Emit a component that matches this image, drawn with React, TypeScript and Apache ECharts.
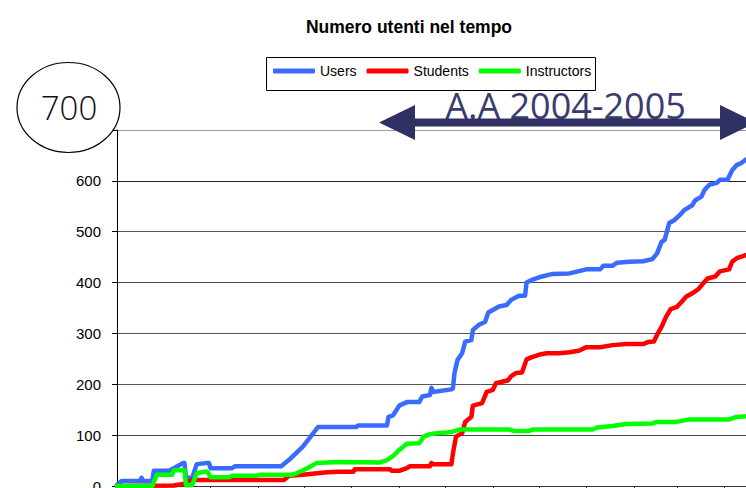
import React, { useEffect, useRef } from "react";
import * as echarts from "echarts";

// x = days since 1 March 2004, y = number of people
const users: [number, number][] = [
  [0, 2], [3, 10], [15, 10], [16, 16], [17, 10], [23, 10], [24, 30], [34, 30], [37, 35], [43, 45], [44, 45],
  [45, 16], [49, 16], [52, 43], [58, 45], [60, 45], [61, 35], [75, 35], [77, 39], [107, 39], [112, 51],
  [121, 77], [126, 96], [131, 116], [156, 116], [157, 119], [176, 119], [177, 136], [180, 139], [184, 158],
  [189, 165], [197, 165], [199, 176], [204, 179], [205, 193], [206, 185], [218, 190], [219, 192], [220, 222],
  [222, 248], [225, 261], [227, 284], [231, 287], [232, 307], [236, 317], [240, 323], [242, 341], [245, 346],
  [249, 353], [254, 356], [257, 366], [262, 374], [266, 374], [267, 400], [271, 406], [277, 412], [284, 417],
  [295, 418], [306, 426], [315, 426], [317, 433], [323, 433], [326, 439], [334, 441], [343, 442], [349, 446],
  [352, 457], [355, 480], [357, 484], [360, 517], [363, 522], [367, 533], [370, 543], [375, 552], [377, 562],
  [381, 569], [383, 582], [386, 592], [391, 596], [393, 602], [398, 602], [401, 621], [404, 631], [407, 635],
  [410, 642], [412, 645],
];

const students: [number, number][] = [
  [0, 0], [37, 1], [41, 3], [45, 5], [49, 12], [109, 12], [112, 20], [121, 22], [137, 27], [145, 28],
  [154, 28], [155, 33], [178, 33], [179, 30], [184, 30], [189, 35], [191, 39], [204, 39], [205, 45],
  [206, 43], [218, 43], [219, 64], [221, 97], [225, 104], [227, 126], [231, 136], [232, 158], [238, 163],
  [241, 185], [245, 189], [247, 202], [251, 205], [255, 208], [257, 216], [260, 222], [264, 223], [267, 249],
  [270, 253], [275, 258], [280, 261], [288, 261], [295, 263], [301, 266], [306, 273], [315, 273], [323, 277],
  [332, 279], [343, 279], [346, 283], [350, 284], [352, 297], [355, 313], [358, 333], [361, 348], [365, 352],
  [368, 362], [371, 372], [375, 379], [379, 387], [382, 398], [385, 408], [390, 412], [393, 422], [399, 426],
  [401, 441], [404, 448], [410, 454], [412, 456],
];

const instructors: [number, number][] = [
  [0, 0], [23, 0], [26, 22], [36, 22], [37, 31], [44, 31], [45, 2], [49, 2], [52, 25], [57, 28], [59, 28],
  [61, 17], [73, 17], [75, 20], [91, 20], [93, 22], [114, 22], [117, 25], [124, 35], [130, 45], [145, 47],
  [171, 46], [176, 51], [180, 59], [184, 71], [189, 83], [197, 84], [200, 97], [204, 102], [210, 104],
  [215, 105], [219, 107], [223, 111], [256, 111], [259, 108], [268, 108], [271, 111], [310, 111], [313, 115],
  [323, 118], [332, 122], [349, 123], [352, 126], [365, 126], [373, 131], [399, 131], [403, 135], [410, 137],
  [412, 138],
];

// first day of each month, Mar 2004 .. May 2005
const monthStarts = [0, 31, 61, 92, 122, 153, 184, 214, 245, 275, 306, 337, 365, 396, 426];
const yTicks = [0, 100, 200, 300, 400, 500, 600, 700];
const seriesNames = ["Users", "Students", "Instructors"];
const titleText = "Numero utenti nel tempo";
const circleText = "700";
const periodText = "A.A 2004-2005";

const NARROW = "'Liberation Sans Narrow', 'Arial Narrow', 'Liberation Sans', Arial, sans-serif";
const ROUND = "'Open Sans', 'Lato', 'DejaVu Sans', sans-serif";

export default function App() {
  const ref = useRef<HTMLDivElement>(null);
  useEffect(() => {
    if (!ref.current) return;
    const chart = echarts.init(ref.current, null, { renderer: "svg" });
    const pxPerDay = 1.534;
    const option: any = {
      animation: false,
      backgroundColor: "#ffffff",
      title: {
        text: titleText,
        left: 404,
        top: 13,
        textAlign: "center",
        textStyle: { fontFamily: NARROW, fontSize: 17.5, fontWeight: "bold", color: "#000" },
      },
      legend: {
        data: seriesNames,
        left: 273,
        top: 64,
        itemWidth: 42,
        itemHeight: 5,
        itemGap: 10,
        icon: "roundRect",
        padding: 0,
        z: 6,
        textStyle: { fontFamily: NARROW, fontSize: 14, color: "#000" },
      },
      grid: {
        left: 117,
        top: 130,
        width: monthStarts[monthStarts.length - 1] * pxPerDay,
        height: 356,
        containLabel: false,
        outerBoundsMode: "none",
      },
      xAxis: {
        type: "value",
        min: 0,
        max: monthStarts[monthStarts.length - 1],
        axisLine: { show: true, lineStyle: { color: "#333", width: 1 } },
        axisTick: { show: true, customValues: monthStarts, length: 5, lineStyle: { color: "#333" } },
        axisLabel: { show: false },
        splitLine: { show: false },
      },
      yAxis: {
        type: "value",
        min: 0,
        max: 700,
        interval: 100,
        axisLine: { show: true, lineStyle: { color: "#000", width: 1 } },
        axisTick: { show: true, length: 5, lineStyle: { color: "#000" } },
        axisLabel: {
          margin: 16,
          fontFamily: NARROW,
          fontSize: 15,
          color: "#000",
          formatter: (v: number) => (v === 700 || !yTicks.includes(v) ? "" : String(v)),
        },
        splitLine: {
          show: true,
          lineStyle: { color: ["#444", "#444", "#555", "#555", "#444", "#555", "#222", "#999"], width: 1 },
        },
      },
      series: [
        { name: seriesNames[0], data: users, color: "#3a6bff" },
        { name: seriesNames[1], data: students, color: "#ff0000" },
        { name: seriesNames[2], data: instructors, color: "#00ff00" },
      ].map((s) => ({
        ...s,
        type: "line",
        symbol: "none",
        clip: true,
        lineStyle: { width: 4.5, join: "round", cap: "round" },
      })),
      graphic: [
        {
          type: "rect",
          z: 1,
          shape: { x: 266.5, y: 57.5, width: 329, height: 33 },
          style: { fill: "#fff", stroke: "#000", lineWidth: 1 },
        },
        {
          type: "ellipse",
          z: 10,
          shape: { cx: 68.5, cy: 107.5, rx: 51.5, ry: 45 },
          style: { fill: "#fff", stroke: "#000", lineWidth: 1.2 },
        },
        {
          type: "text",
          z: 11,
          x: 69,
          y: 107.5,
          style: {
            text: circleText,
            fontFamily: ROUND,
            fontWeight: 300,
            fontSize: 33,
            fill: "#111",
            align: "center",
            verticalAlign: "middle",
          },
        },
        {
          type: "text",
          z: 10,
          x: 565.5,
          y: 105,
          style: {
            text: periodText,
            fontFamily: ROUND,
            fontWeight: "normal",
            fontSize: 36,
            fill: "#3b3b6e",
            align: "center",
            verticalAlign: "middle",
          },
        },
        {
          type: "polygon",
          z: 12,
          shape: {
            points: [
              [379, 122.5], [415, 105], [415, 118.5], [720, 118.5], [720, 105], [756, 122.5],
              [720, 140], [720, 126.5], [415, 126.5], [415, 140],
            ],
          },
          style: { fill: "#2f3063" },
        },
      ],
    };
    chart.setOption(option);
    return () => chart.dispose();
  }, []);
  return (
    <div
      ref={ref}
      style={{ position: "fixed", left: 0, top: 0, width: 800, height: 540, background: "#fff" }}
    />
  );
}
